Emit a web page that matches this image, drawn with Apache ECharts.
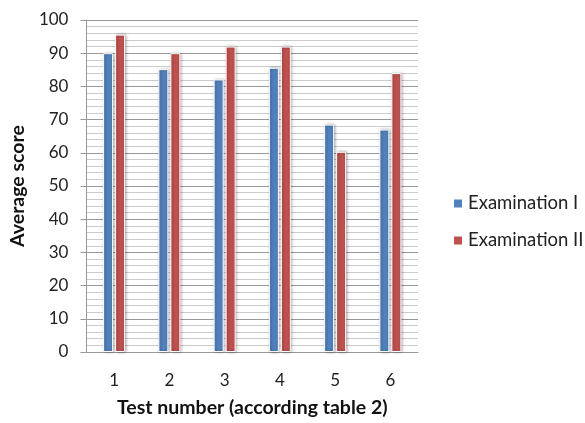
<!DOCTYPE html>
<html>
<head>
<meta charset="utf-8">
<script src="https://cdn.jsdelivr.net/npm/echarts@6/dist/echarts.min.js"></script>
<style>
  html, body { margin: 0; padding: 0; background: #fff; }
  #chart { width: 585px; height: 423px; }
</style>
</head>
<body>
<div id="chart"></div>
<script>
// 数据
var categories = ['1', '2', '3', '4', '5', '6'];
var exam1 = [90, 85.2, 82.1, 85.6, 68.5, 67];
var exam2 = [95.6, 90, 92, 92, 60.3, 84];

var chart = echarts.init(document.getElementById('chart'));

var barStyle = function (color) {
    return {
        color: color,
        borderColor: '#fff',
        borderWidth: 1,
        shadowBlur: 3,
        shadowOffsetX: 1,
        shadowOffsetY: 0,
        shadowColor: 'rgba(0,0,0,0.35)'
    };
};

var option = {
    animation: false,
    textStyle: { fontFamily: 'Lato' },
    grid: { left: 83, right: 167, top: 20, bottom: 70 },
    legend: {
        orient: 'vertical',
        left: 452,
        top: 194,
        padding: 0,
        itemWidth: 10,
        itemHeight: 10,
        itemGap: 18,
        icon: 'rect',
        textStyle: { fontSize: 18.5, color: '#222', fontFamily: 'Lato' },
        data: ['Examination I', 'Examination II']
    },
    xAxis: {
        type: 'category',
        data: categories,
        name: 'Test number (according table 2)',
        nameLocation: 'middle',
        nameGap: 46,
        nameTextStyle: { fontSize: 19.5, fontWeight: 'bold', color: '#111' },
        axisLine: { lineStyle: { color: '#999' } },
        axisTick: { show: false },
        axisLabel: { margin: 20, fontSize: 17, color: '#222' }
    },
    yAxis: {
        type: 'value',
        min: 0,
        max: 100,
        interval: 10,
        name: 'Average score',
        nameLocation: 'middle',
        nameGap: 55,
        nameTextStyle: { fontSize: 19.5, fontWeight: 'bold', color: '#111' },
        axisLine: { show: true, lineStyle: { color: '#999' } },
        axisTick: { show: true, length: 6, lineStyle: { color: '#999' } },
        axisLabel: { margin: 18, fontSize: 17, color: '#222' },
        splitLine: { lineStyle: { color: '#999' } },
        minorTick: { show: false, splitNumber: 5 },
        minorSplitLine: { show: true, lineStyle: { color: '#ccc' } }
    },
    series: [
        {
            name: 'Examination I',
            type: 'bar',
            data: exam1,
            barWidth: 10,
            barGap: '20%',
            itemStyle: barStyle('#4F81BD')
        },
        {
            name: 'Examination II',
            type: 'bar',
            data: exam2,
            barWidth: 10,
            itemStyle: barStyle('#C0504D')
        }
    ]
};

chart.setOption(option);
</script>
</body>
</html>
